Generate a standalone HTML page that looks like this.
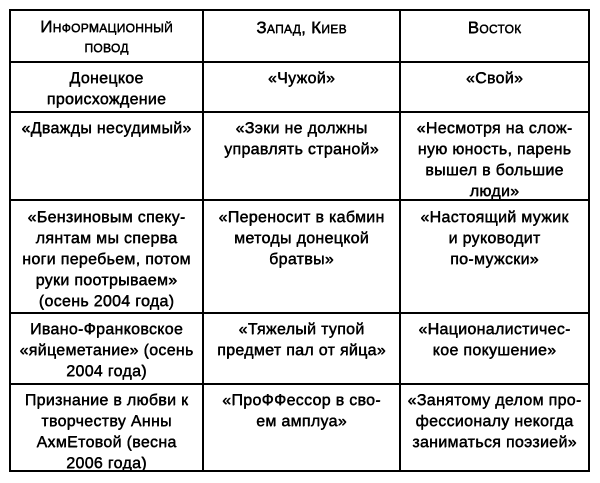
<!DOCTYPE html>
<html><head><meta charset="utf-8"><style>
body{margin:0;width:600px;height:483px;background:#fff;position:relative;overflow:hidden;font-family:"Liberation Sans",sans-serif;color:#000}
.l{position:absolute;background:#000}
.c{position:absolute;text-align:center;font-size:16px;line-height:21px;letter-spacing:0.3px;text-shadow:0.4px 0 0 #000,0 0.3px 0 #000}
.sc{font-variant:small-caps;font-size:17px}
</style></head><body>
<div class="l" style="left:9px;top:9px;width:581px;height:2px"></div>
<div class="l" style="left:9px;top:61px;width:581px;height:2px"></div>
<div class="l" style="left:9px;top:111px;width:581px;height:2px"></div>
<div class="l" style="left:9px;top:199px;width:581px;height:2px"></div>
<div class="l" style="left:9px;top:312px;width:581px;height:2px"></div>
<div class="l" style="left:9px;top:383px;width:581px;height:2px"></div>
<div class="l" style="left:9px;top:470px;width:581px;height:2px"></div>
<div class="l" style="left:9px;top:9px;width:2px;height:463px"></div>
<div class="l" style="left:202px;top:9px;width:2px;height:463px"></div>
<div class="l" style="left:399px;top:9px;width:2px;height:463px"></div>
<div class="l" style="left:588px;top:9px;width:2px;height:463px"></div>

<div class="c sc" style="left:11px;top:17px;width:191px;line-height:20px">Информационный<br>повод</div>
<div class="c sc" style="left:204px;top:17px;width:195px">Запад, Киев</div>
<div class="c sc" style="left:401px;top:17px;width:187px">Восток</div>

<div class="c" style="left:11px;top:68px;width:191px">Донецкое<br>происхождение</div>
<div class="c" style="left:204px;top:68px;width:195px">«Чужой»</div>
<div class="c" style="left:401px;top:68px;width:187px">«Свой»</div>

<div class="c" style="left:11px;top:118px;width:191px">«Дважды несудимый»</div>
<div class="c" style="left:204px;top:118px;width:195px">«Зэки не должны<br>управлять страной»</div>
<div class="c" style="left:401px;top:118px;width:187px">«Несмотря на слож-<br>ную юность, парень<br>вышел в большие<br>люди»</div>

<div class="c" style="left:11px;top:207px;width:191px">«Бензиновым спеку-<br>лянтам мы сперва<br>ноги перебьем, потом<br>руки поотрываем»<br>(осень 2004 года)</div>
<div class="c" style="left:204px;top:207px;width:195px">«Переносит в кабмин<br>методы донецкой<br>братвы»</div>
<div class="c" style="left:401px;top:207px;width:187px">«Настоящий мужик<br>и руководит<br>по-мужски»</div>

<div class="c" style="left:11px;top:319px;width:191px">Ивано-Франковское<br>«яйцеметание» (осень<br>2004 года)</div>
<div class="c" style="left:204px;top:319px;width:195px">«Тяжелый тупой<br>предмет пал от яйца»</div>
<div class="c" style="left:401px;top:319px;width:187px">«Националистичес-<br>кое покушение»</div>

<div class="c" style="left:11px;top:390px;width:191px">Признание в любви к<br>творчеству Анны<br>АхмЕтовой (весна<br>2006 года)</div>
<div class="c" style="left:204px;top:390px;width:195px">«ПроФФессор в сво-<br>ем амплуа»</div>
<div class="c" style="left:401px;top:390px;width:187px">«Занятому делом про-<br>фессионалу некогда<br>заниматься поэзией»</div>
</body></html>
